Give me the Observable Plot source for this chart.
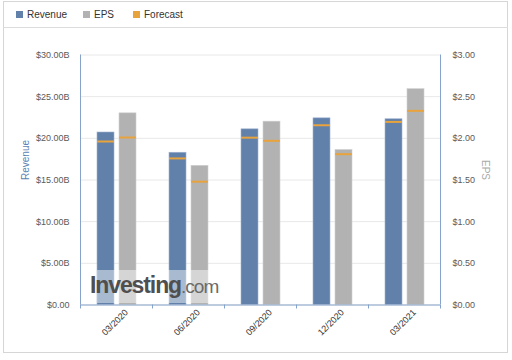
<!DOCTYPE html>
<html>
<head>
<meta charset="utf-8">
<script src="https://cdn.jsdelivr.net/npm/d3@7"></script>
<script src="https://cdn.jsdelivr.net/npm/@observablehq/plot@0.6"></script>
<style>
  html, body { margin: 0; padding: 0; background: #fff; }
  body { width: 512px; height: 360px; position: relative; overflow: hidden; font-family: "Liberation Sans", Arial, sans-serif; }
  #frame { position: absolute; left: 3px; top: 1px; width: 505px; height: 352px; border: 1px solid #d6d6d6; box-sizing: border-box; }
  #legendbar { position: absolute; left: 3px; top: 1px; width: 505px; height: 27px; border-bottom: 1px solid #dcdcdc; box-sizing: border-box; }
  .lg { position: absolute; top: 9px; font-size: 10px; color: #333; line-height: 12px; white-space: nowrap; }
  .lg i { display: inline-block; width: 7px; height: 7px; margin-right: 4px; vertical-align: 0px; }
  #chart { position: absolute; left: 0; top: 0; }
  #wm { position: absolute; left: 97px; top: 270px; width: 118px; height: 33px; background: rgba(255,255,255,0.45); }
  #wmtext { position: absolute; left: 90px; top: 272px; white-space: nowrap; font-family: "Liberation Sans", Arial, sans-serif; }
  #wmtext b { font-size: 23px; color: #4f4f4f; letter-spacing: -1.1px; }
  #wmtext span { font-size: 19px; color: #6a6a6a; letter-spacing: -1px; }
</style>
</head>
<body>
<div id="frame"></div>
<div id="legendbar"></div>
<div id="chart"></div>
<div id="legend"></div>
<script>
const dates = ["03/2020", "06/2020", "09/2020", "12/2020", "03/2021"];
const revenue = [20.70, 18.27, 21.08, 22.40, 22.29];          // $B
const revenueForecast = [19.62, 17.59, 20.08, 21.57, 21.97];  // $B
const eps = [2.30, 1.67, 2.20, 1.86, 2.59];                   // $
const epsForecast = [2.01, 1.48, 1.97, 1.81, 2.33];           // $
const revenueTicks = [0, 5, 10, 15, 20, 25, 30];
const epsTicks = [0, 0.5, 1, 1.5, 2, 2.5, 3];
const legendItems = ["Revenue", "EPS", "Forecast"];

const BLUE = "#6281aa", GRAY = "#b2b2b2", ORANGE = "#e9a33c", AXIS = "#86a3cb";
const legendColors = [BLUE, GRAY, ORANGE];
const EPS_SCALE = 10; // EPS drawn on the revenue scale: $3.00 ↔ $30B

const rows = dates.map((d, i) => ({
  date: d,
  revenue: revenue[i],
  revenueForecast: revenueForecast[i],
  eps: eps[i] * EPS_SCALE,
  epsForecast: epsForecast[i] * EPS_SCALE
}));

const chart = Plot.plot({
  width: 512,
  height: 360,
  marginLeft: 80,
  marginRight: 72,
  marginTop: 54.5,
  marginBottom: 55.5,
  style: { fontFamily: "Liberation Sans, Arial, sans-serif", fontSize: "9px", color: "#555", background: "transparent", overflow: "visible" },
  x: { domain: dates, padding: 0 },
  y: { domain: [0, 30] },
  marks: [
    Plot.ruleY(revenueTicks, { stroke: "#e8e8e8" }),
    Plot.barY(rows, { x: "date", y: "revenue", fill: BLUE, stroke: "#9fb3cf", strokeWidth: 0.6, insetLeft: 17, insetRight: 38 }),
    Plot.barY(rows, { x: "date", y: "eps", fill: GRAY, stroke: "#d0d0d0", strokeWidth: 0.6, insetLeft: 39, insetRight: 16 }),
    Plot.tickY(rows, { x: "date", y: "revenueForecast", stroke: ORANGE, strokeWidth: 2, insetLeft: 17, insetRight: 38 }),
    Plot.tickY(rows, { x: "date", y: "epsForecast", stroke: ORANGE, strokeWidth: 2, insetLeft: 39, insetRight: 16 }),
    Plot.axisY(revenueTicks, { anchor: "left", tickSize: 0, tickPadding: 11, tickFormat: d => d === 0 ? "$0.00" : "$" + d.toFixed(2) + "B", label: null, fill: "#5a5a5a" }),
    Plot.axisY(epsTicks.map(d => d * EPS_SCALE), { anchor: "right", tickSize: 0, tickPadding: 12, tickFormat: d => "$" + (d / EPS_SCALE).toFixed(2), label: null, fill: "#5a5a5a" }),
    Plot.text(["Revenue"], { frameAnchor: "left", rotate: -90, dx: -55, fill: "#5b7fb4", fontSize: 10 }),
    Plot.text(["EPS"], { frameAnchor: "right", rotate: 90, dx: 45, fill: "#aaaaaa", fontSize: 10 }),
    Plot.axisX({ tickSize: 0, tickRotate: -45, tickPadding: 6, dx: 10, label: null, fill: "#333", fontSize: 9 }),
    Plot.axisX({ tickSize: 4, text: null, dx: -36, stroke: AXIS, label: null }),
    Plot.axisX([dates[dates.length - 1]], { tickSize: 4, text: null, dx: 36, stroke: AXIS, label: null }),
    Plot.ruleY([0], { stroke: AXIS }),
    Plot.ruleX([dates[0]], { x: d => d, y1: 0, y2: 30, dx: -36, stroke: AXIS }),
    Plot.ruleX([dates[dates.length - 1]], { x: d => d, y1: 0, y2: 30, dx: 36, stroke: AXIS })
  ]
});
document.getElementById("chart").appendChild(chart);

// legend
const lx = [16, 83, 133];
const legend = document.getElementById("legend");
legendItems.forEach((name, i) => {
  const el = document.createElement("div");
  el.className = "lg";
  el.style.left = lx[i] + "px";
  el.innerHTML = `<i style="background:${legendColors[i]}"></i>${name}`;
  legend.appendChild(el);
});

// watermark
const wm = document.createElement("div"); wm.id = "wm"; document.body.appendChild(wm);
const wt = document.createElement("div"); wt.id = "wmtext";
wt.innerHTML = "<b>Investing</b><span>.com</span>";
document.body.appendChild(wt);
</script>
</body>
</html>
